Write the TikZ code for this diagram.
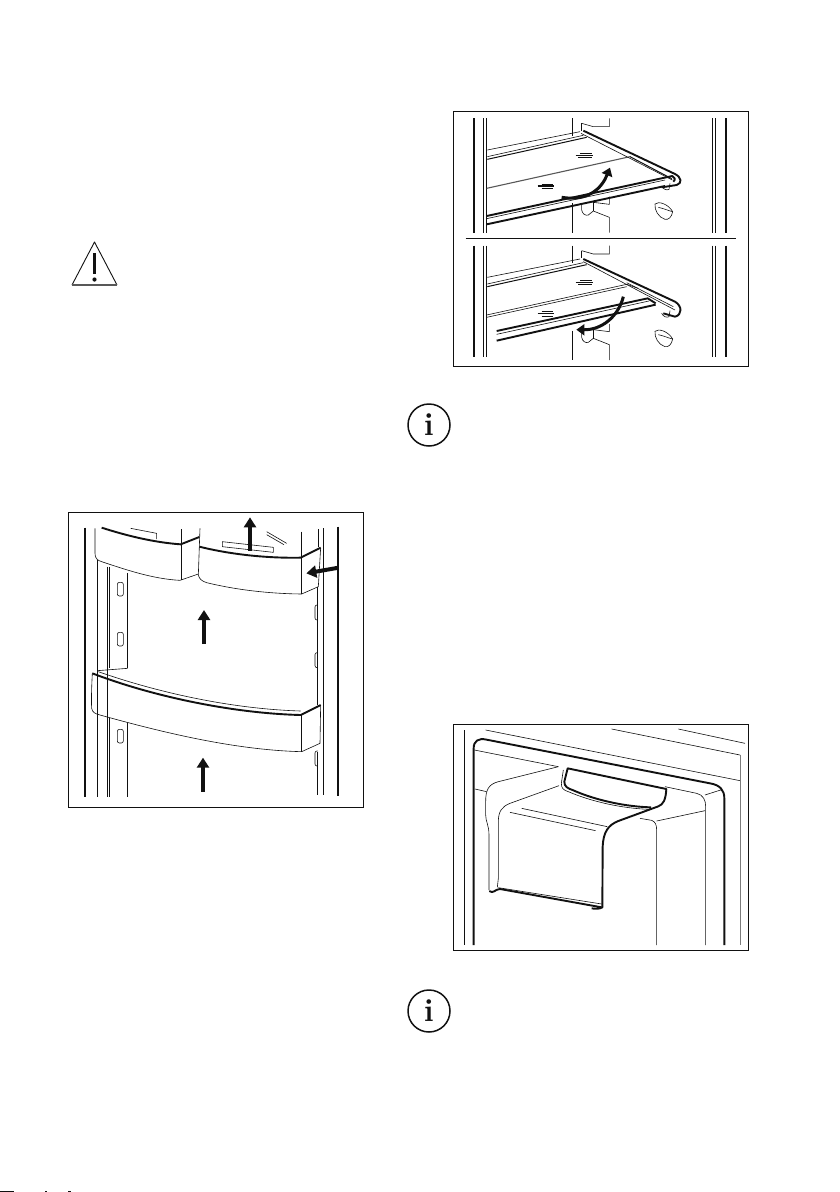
\documentclass[tikz,border=0pt]{standalone}
\usetikzlibrary{arrows.meta}
\definecolor{ink}{HTML}{111111}
\tikzset{
  frameline/.style={draw=ink,line width=1pt},
  thin line/.style={draw=ink,line width=0.6pt},
  mid line/.style={draw=ink,line width=1pt},
  heavy line/.style={draw=ink,line width=1.9pt,line join=round},
  wall line/.style={draw=ink,line width=2.2pt},
  gray line/.style={draw=ink!55,line width=0.8pt},
  bluntarrow/.style={draw=ink,line width=4pt,-{Triangle[length=10pt,width=12pt]}},
  curvearrow/.style={draw=ink,line width=3pt,-{Triangle[length=8pt,width=11pt]}},
  panelA/.style={shift={(60,505)},x=0.33333pt,y=-0.33333pt},
  panelB/.style={shift={(445,100)},x=0.33333pt,y=-0.33333pt},
  panelC/.style={shift={(445,715)},x=0.33333pt,y=-0.33333pt},
  infoicon/.style={circle,draw=ink,line width=1.5pt,minimum size=42pt,inner sep=0pt,font=\bfseries\fontsize{32}{32}\selectfont,text=ink},
}
\begin{document}
\begin{tikzpicture}[x=1pt,y=-1pt]
\useasboundingbox (0,0) rectangle (840,1192);
\fill[white] (0,0) rectangle (840,1192);

% warning icon
\draw[thin line,line width=0.9pt,line join=round] (72,285) -- (94.5,242) -- (117,285);
\draw[draw=ink!70,line width=1.8pt] (72,285) -- (117,285);
\draw[ink,line width=3.6pt] (94.5,253) -- (94.5,274);
\fill[ink] (94.5,279.5) circle (2.1);

% info icons
\node[infoicon] (info1) at (429,425) {i};
\node[infoicon] (info2) at (429,1011) {i};

% ---------- door bins ----------
\begin{scope}[panelA]
\draw[frameline] (25,22) rectangle (910,907);
\draw[wall line] (75,68) -- (75,877);
\draw[wall line] (835,65) -- (835,872);
\draw[thin line] (112,165) -- (112,875);
\draw[mid line] (142,185) -- (142,875);
\draw[thin line] (148,185) -- (148,490);
\draw[thin line] (148,640) -- (148,875);
\draw[thin line] (203,205) -- (203,490);
\draw[thin line] (203,655) -- (203,875);
\draw[mid line] (773,245) -- (773,600);
\draw[mid line] (773,740) -- (773,870);
\draw[thin line] (790,70) -- (790,870);
% slots
\foreach \yy in {232,382,673}
  \draw[thin line,rounded corners=2pt] (172,\yy) rectangle (190,\yy+41);
\foreach \yy in {300,443,738}
  \draw[thin line,rounded corners=2pt] (773,\yy) -- (765,\yy) -- (765,\yy+45) -- (773,\yy+45);
% left upper bin
\draw[thin line] (105,70) -- (105,145) .. controls (105,160) and (112,166) .. (125,170)
   .. controls (200,195) and (280,222) .. (360,226) -- (415,207);
\draw[thin line] (363,72) -- (363,226);
\draw[thin line] (212,70) -- (290,85) -- (290,102);
\draw[heavy line] (125,68) .. controls (200,92) and (280,112) .. (362,118) -- (418,96);
% right upper bin
\draw[thin line] (420,70) -- (418,125) -- (415,210) .. controls (418,222) and (425,228) .. (440,233)
   .. controls (530,255) and (630,266) .. (725,267) -- (775,245) -- (782,128);
\draw[thin line] (725,80) -- (725,267);
\draw[thin line] (775,72) -- (775,125);
\draw[thin line] (487,110) -- (640,127) -- (640,142) -- (487,125) -- cycle;
\draw[thin line] (620,80) -- (680,115);
\draw[thin line] (620,89) -- (672,119);
\draw[heavy line] (418,125) .. controls (510,148) and (620,160) .. (722,158) -- (782,128);
% big lower bin
\draw[thin line] (112,497) -- (203,490);
\draw[thin line] (97,505) .. controls (94,560) and (94,590) .. (95,610) .. controls (97,622) and (105,626) .. (120,630)
   .. controls (300,680) and (520,735) .. (725,740) -- (780,715) -- (782,600);
\draw[thin line] (725,630) -- (725,740);
\draw[thin line] (115,500) .. controls (300,565) and (520,612) .. (722,618);
\draw[heavy line] (97,505) .. controls (280,575) and (520,625) .. (722,630) -- (782,600);
% arrows
\draw[bluntarrow] (570,137) -- (570,37);
\draw[bluntarrow] (432,417) -- (432,315);
\draw[bluntarrow] (429,860) -- (429,758);
\draw[bluntarrow] (836,188) -- (739,205);
\end{scope}

% ---------- shelf ----------
\begin{scope}[panelB]
\draw[frameline] (25,35) rectangle (910,798);
\draw[mid line] (62,416) -- (872,416);
\foreach \a/\b in {55/398,437/770}{
  \draw[wall line] (86,\a) -- (86,\b);
  \draw[wall line] (842,\a) -- (842,\b);
  \draw[thin line] (115,\a) -- (115,\b);
  \draw[mid line] (124,\a) -- (124,\b);
  \draw[thin line] (802,\a) -- (802,\b);
  \draw[thin line] (811,\a) -- (811,\b);
}
\foreach \dy in {0,382}{
\begin{scope}[yshift=-0.33333*\dy pt]
  \draw[thin line] (382,55) -- (382,108);
  \draw[thin line] (382,310) -- (382,398);
  \draw[thin line] (410,70) -- (410,92);
  \draw[thin line] (410,70) -- (445,80) -- (493,80) -- (493,55);
  \draw[thin line] (410,312) -- (410,330) .. controls (412,342) and (422,348) .. (430,345) -- (445,333) -- (493,352) -- (493,398);
  \draw[thin line] (445,305) -- (445,333);
  \draw[thin line] (445,307) -- (493,313) -- (493,290);
  \draw[thin line] (630,312) .. controls (640,302) and (670,312) .. (683,335) .. controls (680,352) and (670,360) .. (660,358) .. controls (640,352) and (628,330) .. (630,312) -- cycle;
  \draw[thin line] (640,322) .. controls (655,325) and (670,332) .. (683,335);
  \draw[thin line] (650,258) .. controls (655,268) and (665,272) .. (672,268) -- (675,250);
  \draw[thin line] (127,150) -- (405,95);
  \draw[thin line] (127,170) -- (415,106);
  \draw[mid line] (127,178) -- (425,112);
  \draw[draw=ink,line width=1.4pt] (392,166) -- (445,166);
  \draw[thin line] (405,160) -- (440,160);
  \draw[draw=ink,line width=1.4pt] (278,258) -- (328,258);
  \draw[thin line] (290,252) -- (325,252);
  \draw[thin line] (290,266) -- (325,266);
  \draw[thin line] (400,172) -- (440,172);
\end{scope}}
% top shelf
\draw[draw=ink!70,line width=1.1pt] (125,265) -- (555,170);
\draw[heavy line] (415,92) -- (690,222) .. controls (710,232) and (712,250) .. (695,255) -- (650,262);
\draw[thin line] (408,100) -- (682,240);
\draw[mid line] (555,170) -- (680,236);
\draw[heavy line] (125,348) -- (682,228) .. controls (690,230) and (692,240) .. (685,245);
\draw[thin line] (125,356) -- (660,240);
\draw[heavy line] (125,373) -- (660,258);
% bottom shelf
\draw[thin line] (125,645) -- (545,553) -- (580,565);
\draw[thin line] (125,652) -- (545,560);
\draw[heavy line] (415,477) -- (690,605) .. controls (712,618) and (712,645) .. (690,650) -- (655,640);
\draw[thin line] (415,485) -- (690,630);
\draw[thin line] (545,548) -- (685,620);
\draw[heavy line] (155,693) -- (608,595) -- (632,610);
\draw[thin line] (155,703) -- (612,603);
\draw[heavy line] (155,722) -- (632,614);
% arrows
\draw[curvearrow] (350,292) .. controls (430,305) and (470,265) .. (495,203);
\draw[curvearrow] (535,590) .. controls (520,650) and (470,690) .. (394,689);
\end{scope}

% ---------- dairy lid ----------
\begin{scope}[panelC]
\draw[frameline] (25,28) rectangle (910,707);
\draw[thin line] (58,45) -- (58,690);
\draw[thin line] (122,45) -- (885,197);
\draw[thin line] (500,42) -- (885,120);
\draw[thin line] (700,42) -- (900,85);
\draw[gray line] (885,120) -- (885,690);
\draw[heavy line] (86,690) -- (86,100) .. controls (86,78) and (100,68) .. (125,74) -- (795,205)
  .. controls (825,210) and (838,225) .. (838,250) -- (838,690);
\draw[thin line] (88,105) -- (340,155);
\draw[thin line] (660,215) -- (755,235) .. controls (775,240) and (782,255) .. (782,275) -- (782,690);
\draw[thin line] (90,222) -- (125,230);
\draw[thin line] (780,240) -- (830,224);
% lid outline
\draw[thin line] (340,155) -- (160,200) .. controls (130,208) and (122,225) .. (122,260) -- (122,300) .. controls (122,320) and (132,330) .. (132,360) -- (132,525);
\draw[thin line] (342,212) -- (195,265) .. controls (170,275) and (160,290) .. (160,320) -- (160,490) -- (157,517);
\draw[thin line] (230,280) -- (487,335);
\draw[thin line] (195,292) -- (452,347);
\draw[thin line] (160,518) -- (470,567);
\draw[heavy line] (133,528) .. controls (145,538) and (150,522) .. (165,522) -- (470,577) -- (472,577) .. controls (465,582) and (450,582) .. (440,580);
\draw[heavy line] (472,577) -- (473,395) .. controls (475,350) and (490,330) .. (520,318) -- (640,274)
   .. controls (655,268) and (662,255) .. (664,222) -- (368,160) -- (358,200) .. controls (358,215) and (368,220) .. (385,226)
   .. controls (450,255) and (540,275) .. (618,277);
\draw[thin line] (355,165) -- (349,205) .. controls (349,220) and (355,225) .. (370,230) .. controls (440,260) and (530,280) .. (612,283);
% right box
\draw[thin line] (585,310) -- (620,316) .. controls (630,320) and (635,328) .. (635,345) -- (635,690);
\draw[thin line] (635,318) -- (780,287);
\end{scope}

% specks at the bottom edge
\fill[ink] (0,1191) rectangle (14,1192);
\fill[ink] (45,1191) rectangle (47,1192);
\fill[ink] (68,1191) rectangle (71,1192);
\end{tikzpicture}
\end{document}
